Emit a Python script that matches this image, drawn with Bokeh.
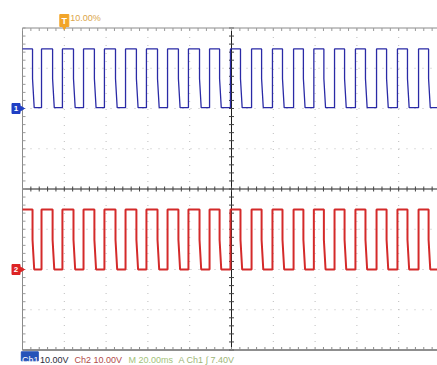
import numpy as np
from bokeh.plotting import figure
from bokeh.models import Range1d
from bokeh.embed import file_html
from bokeh.resources import INLINE
from bokeh.core.properties import value

time_per_div_ms = 20.0
n_hdiv = 10
n_vdiv = 8
trigger_pos_pct = 10.0
ch1_offset_div = 2.0
ch2_offset_div = -2.0
ch1_volts_per_div = 10.0
ch2_volts_per_div = 10.0
ch1_low_v = 0.2
ch1_high_v = 14.8
ch2_low_v = 0.0
ch2_high_v = 14.9
edge_kink_v = 7.4        # falling edges show a kink near mid level
fall_tail_ms = 0.8       # slanted lower part of falling edges

fall_ms = [4.8, 14.4, 24.4, 34.4, 44.5, 54.5, 64.6, 74.6, 84.7, 94.3,
           104.3, 114.4, 124.4, 134.4, 144.2, 154.1, 164.1, 174.2, 184.2, 194.3]
rise_ms = [9.1, 19.1, 29.2, 39.2, 49.3, 59.3, 69.4, 79.4, 89.5, 99.5,
           109.6, 119.6, 129.7, 139.4, 149.3, 159.3, 169.4, 179.4, 189.5]

trigger_text = "10.00%"
status_texts = ["Ch1", "10.00V", "Ch2 10.00V", "M 20.00ms", "A Ch1 \u222b 7.40V"]
status_colors = ["#ffffff", "#2a2a3a", "#b04a4a", "#a3c27a", "#9db577"]

# ---------------- layout constants ----------------
PX_MS = 2.09      # screen pixels per ms
PX_DIV = 40.25    # screen pixels per vertical division
FONT = value("Liberation Sans")
t_total = time_per_div_ms * n_hdiv
half_v = n_vdiv / 2


def px_x(dx):
    return dx / PX_MS


def px_y(dy):
    return dy / PX_DIV


p = figure(width=437, height=365,
           x_range=Range1d(px_x(-22), px_x(415)),
           y_range=Range1d(px_y(-176.5), px_y(188.5)),
           x_axis_location=None, y_axis_location=None,
           output_backend="svg", toolbar_location=None, min_border=0)
p.outline_line_color = None
p.grid.visible = False
p.background_fill_color = "white"
p.border_fill_color = "white"

# dotted graticule
gx = [time_per_div_ms * k for k in range(1, n_hdiv) if k != n_hdiv // 2]
p.segment(x0=gx, y0=-half_v, x1=gx, y1=half_v, line_color="#bcbcbc",
          line_width=1, line_dash="1 7")
gy = [k for k in range(-int(half_v) + 1, int(half_v)) if k != 0]
p.segment(x0=0, y0=gy, x1=t_total, y1=gy, line_color="#bcbcbc",
          line_width=1, line_dash="1 7")

# minor tick positions (1/5 division)
mx = np.arange(0, t_total + 0.01, time_per_div_ms / 5)
my = np.arange(-half_v, half_v + 0.01, 0.2)

# center cross with ticks
p.segment(x0=t_total / 2, y0=-half_v, x1=t_total / 2, y1=half_v, line_color="#1e1e1e", line_width=1)
p.segment(x0=0, y0=0, x1=t_total, y1=0, line_color="#1e1e1e", line_width=1)
p.segment(x0=mx, y0=px_y(-2.5), x1=mx, y1=px_y(2.5), line_color="#444444", line_width=1)
p.segment(x0=t_total / 2 + px_x(-2.5), y0=my, x1=t_total / 2 + px_x(2.5), y1=my,
          line_color="#444444", line_width=1)

# border with ticks
p.segment(x0=0, y0=half_v, x1=t_total, y1=half_v, line_color="#8a8a8a", line_width=1)
p.segment(x0=0, y0=-half_v, x1=t_total, y1=-half_v, line_color="#6a6a6a", line_width=1.5)
p.segment(x0=0, y0=-half_v, x1=0, y1=half_v, line_color="#8a8a8a", line_width=1)
p.segment(x0=mx, y0=half_v, x1=mx, y1=half_v - px_y(3), line_color="#9a9a9a", line_width=1)
p.segment(x0=mx, y0=-half_v, x1=mx, y1=-half_v + px_y(3), line_color="#8a8a8a", line_width=1)
p.segment(x0=0, y0=my, x1=px_x(3), y1=my, line_color="#9a9a9a", line_width=1)


def trace(low_v, high_v, offset, vpd):
    lo = offset + low_v / vpd
    hi = offset + high_v / vpd
    mid = offset + edge_kink_v / vpd
    events = sorted([(t, "f") for t in fall_ms] + [(t, "r") for t in rise_ms])
    xs, ys = [0.0], [hi]
    for t, kind in events:
        if kind == "f":
            xs += [t, t, t + fall_tail_ms]
            ys += [hi, mid, lo]
        else:
            xs += [t, t]
            ys += [lo, hi]
    xs.append(t_total)
    ys.append(lo)
    return xs, ys


x1, y1 = trace(ch1_low_v, ch1_high_v, ch1_offset_div, ch1_volts_per_div)
x2, y2 = trace(ch2_low_v, ch2_high_v, ch2_offset_div, ch2_volts_per_div)
p.line(x2, y2, line_color="#d42a2a", line_width=2)
p.line(x1, y1, line_color="#2a2aa6", line_width=1.3)

# channel ground markers
for off, col, lab in [(ch1_offset_div, "#1f3fc4", "1"), (ch2_offset_div, "#dd2323", "2")]:
    p.rect(x=[px_x(-6.5)], y=[off], width=8, height=10, width_units="screen",
           height_units="screen", fill_color=col, line_color=col)
    p.scatter(x=[px_x(-2)], y=[off], marker="triangle", angle=-np.pi / 2, size=7,
              fill_color=col, line_color=col)
    p.text(x=[px_x(-6.5)], y=[off], text=[lab], text_color="white", text_font=FONT,
           text_font_size="8px", text_font_style="bold", text_align="center",
           text_baseline="middle")

# trigger position marker
trig_x = t_total * trigger_pos_pct / 100.0
p.rect(x=[trig_x], y=[half_v + px_y(7.5)], width=9, height=12, width_units="screen",
       height_units="screen", fill_color="#f2a52a", line_color="#f2a52a")
p.scatter(x=[trig_x], y=[half_v + px_y(1.8)], marker="inverted_triangle", size=6,
          fill_color="#f2a52a", line_color="#f2a52a")
p.text(x=[trig_x], y=[half_v + px_y(7.5)], text=["T"], text_color="white", text_font=FONT,
       text_font_size="9px", text_font_style="bold", text_align="center", text_baseline="middle")
p.text(x=[trig_x + px_x(6)], y=[half_v + px_y(10)], text=[trigger_text], text_color="#dba64a",
       text_font=FONT, text_font_size="9px", text_align="left", text_baseline="middle")

# status line
status_left_px = [-0.5, 17.5, 52, 106, 156]
base_y = px_y(-170.8)
p.rect(x=[px_x(7.3)], y=[px_y(-167.3)], width=17, height=9, width_units="screen",
       height_units="screen", fill_color="#2553b8", line_color="#2553b8")
p.text(x=[px_x(d) for d in status_left_px], y=[base_y] * len(status_texts), text=status_texts,
       text_color=status_colors, text_font=FONT, text_font_size="9px",
       text_align="left", text_baseline="alphabetic")

open("out.html", "w").write(file_html(p, INLINE))
